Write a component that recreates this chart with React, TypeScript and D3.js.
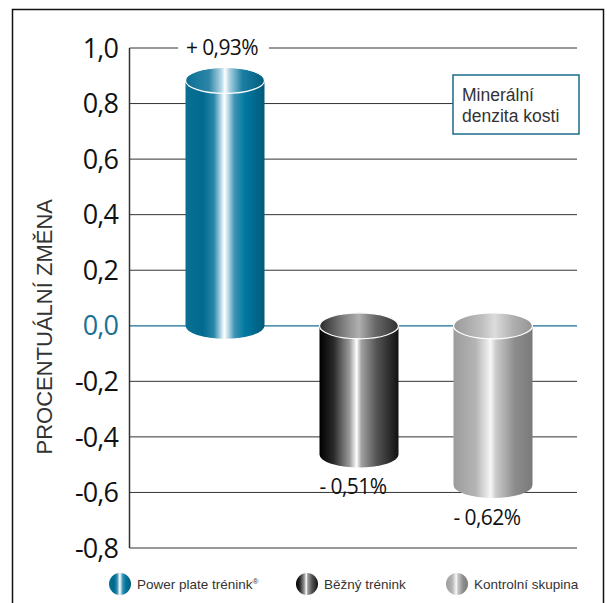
import React from 'react';
import * as d3 from 'd3';

// Data
const groups = ['Power plate trénink', 'Běžný trénink', 'Kontrolní skupina'];
const values = [0.93, -0.51, -0.62];
const valueLabels = ['+ 0,93%', '- 0,51%', '- 0,62%'];
const yTicks = [1.0, 0.8, 0.6, 0.4, 0.2, 0.0, -0.2, -0.4, -0.6, -0.8];
const legendLabels = ['Power plate trénink', 'Běžný trénink', 'Kontrolní skupina'];

const width = 607;
const height = 603;
const axisX = 129.5;
const gridEnd = 577;

const y = d3.scaleLinear().domain([-0.8, 1.0]).range([548, 48]);
const x = d3.scalePoint<string>().domain(groups).range([225, 493]);

const barW = 79;
const rx = barW / 2;
const ry = 13;

const fmt = (v: number) => v.toFixed(1).replace('.', ',');

// gradient stops per series: body and cap
const bodyStops: [number, string][][] = [
  [[0, '#0a6f93'], [0.22, '#006a8e'], [0.36, '#2a86a9'], [0.44, '#a8d0e0'], [0.49, '#ffffff'], [0.54, '#bcdbe8'], [0.62, '#3f93b5'], [0.75, '#0079a0'], [1, '#005a7b']],
  [[0, '#000000'], [0.18, '#2a2a2a'], [0.38, '#9a9a9a'], [0.47, '#ffffff'], [0.53, '#a0a0a0'], [0.72, '#555555'], [1, '#111111']],
  [[0, '#9c9c9c'], [0.28, '#b4b4b4'], [0.47, '#f7f7f7'], [0.54, '#c9c9c9'], [0.78, '#8c8c8c'], [1, '#7a7a7a']],
];
const capStops: [number, string][][] = [
  [[0, '#0a6f93'], [0.3, '#2d86a8'], [0.46, '#b9dbe8'], [0.5, '#ffffff'], [0.56, '#a8d0e0'], [0.72, '#1b7ea3'], [1, '#005d7e']],
  [[0, '#2a2a2a'], [0.35, '#8c8c8c'], [0.5, '#b0b0b0'], [0.7, '#6a6a6a'], [1, '#303030']],
  [[0, '#9a9a9a'], [0.35, '#bdbdbd'], [0.52, '#dcdcdc'], [0.75, '#b0b0b0'], [1, '#949494']],
];

const Grad: React.FC<{ id: string; stops: [number, string][] }> = ({ id, stops }) => (
  <linearGradient id={id} x1="0" y1="0" x2="1" y2="0">
    {stops.map(([o, c], i) => (
      <stop key={i} offset={`${o * 100}%`} stopColor={c} />
    ))}
  </linearGradient>
);

export default function App() {
  const y0 = y(0);

  return (
    <svg width={width} height={height} style={{ display: 'block', position: 'absolute', left: 0, top: 0 }}>
      <defs>
        {groups.map((g, i) => (
          <React.Fragment key={g}>
            <Grad id={`body${i}`} stops={bodyStops[i]} />
            <Grad id={`cap${i}`} stops={capStops[i]} />
          </React.Fragment>
        ))}
      </defs>
      <rect x={0} y={0} width={width} height={height} fill="#fff" />

      {/* outer frame */}
      <path d={`M12.5,${height + 2} V9.5 H603.5 V${height + 2}`} fill="none" stroke="#111" strokeWidth={1.5} />

      {/* grid lines */}
      {yTicks.map(t => (
        <line
          key={t}
          x1={axisX}
          x2={gridEnd}
          y1={y(t)}
          y2={y(t)}
          stroke={t === 0 ? '#1a6f93' : '#333'}
          strokeWidth={t === 0 ? 1.2 : 1}
        />
      ))}

      {/* y axis */}
      <line x1={axisX} x2={axisX} y1={y(1.0)} y2={y(-0.8)} stroke="#333" strokeWidth={1.5} />
      {yTicks.map(t => (
        <text
          key={t}
          x={118}
          y={y(t)}
          dy="0.36em"
          textAnchor="end"
          fontFamily="'Open Sans', sans-serif"
          fontSize={27}
          letterSpacing={-0.9}
          fill={t === 0 ? '#1a6f93' : '#111'}
        >
          {fmt(t)}
        </text>
      ))}

      <text
        transform={`translate(52,${(y(0.6) + y(-0.6)) / 2 + 1}) rotate(-90)`}
        textAnchor="middle"
        fontFamily="'Liberation Sans', Arial, sans-serif"
        fontSize={22}
        fill="#333"
      >
        PROCENTUÁLNÍ ZMĚNA
      </text>

      {/* cylinders */}
      {groups.map((g, i) => {
        const v = values[i];
        const cx = x(g)!;
        const x0 = cx - rx;
        const x1 = cx + rx;
        const topC = v >= 0 ? y(v) + ry : y0;
        const botC = v >= 0 ? y0 : y(v) - ry;
        const body = `M${x0},${topC} V${botC} A${rx},${ry} 0 0 0 ${x1},${botC} V${topC} Z`;
        return (
          <g key={g}>
            <path d={body} fill={`url(#body${i})`} />
            <ellipse cx={cx} cy={topC} rx={rx} ry={ry} fill={`url(#cap${i})`} stroke="#fff" strokeWidth={1.2} />
            {v >= 0 && (
              <rect x={cx - 47} y={y(1.0) - 12} width={91} height={24} fill="#fff" />
            )}
            <text
              x={v >= 0 ? cx - 3 : cx - 6}
              y={v >= 0 ? y(1.0) + 7 : y(v) + 27}
              textAnchor="middle"
              fontFamily="'Open Sans', sans-serif"
              fontSize={21}
              letterSpacing={-0.6}
              fill="#111"
            >
              {valueLabels[i]}
            </text>
          </g>
        );
      })}

      {/* annotation box */}
      <rect x={453} y={75} width={126} height={59} fill="#fff" stroke="#1b6c8a" strokeWidth={1.5} />
      <text fontFamily="'Liberation Sans', Arial, sans-serif" fontSize={17.5} fill="#333">
        <tspan x={462} y={101}>Minerální</tspan>
        <tspan x={462} y={122}>denzita kosti</tspan>
      </text>

      {/* legend */}
      {legendLabels.map((l, i) => {
        const lx = [120, 307, 457][i];
        return (
          <g key={l} transform={`translate(${lx},584)`}>
            <ellipse cx={0} cy={0} rx={11} ry={11} fill={`url(#body${i})`} />
            <text
              x={17}
              y={0}
              dy="0.36em"
              fontFamily="'Liberation Sans', Arial, sans-serif"
              fontSize={13.5}
              fill="#333"
            >
              {l}
              {i === 0 && <tspan fontSize={8} dy={-5}>®</tspan>}
            </text>
          </g>
        );
      })}
    </svg>
  );
}
